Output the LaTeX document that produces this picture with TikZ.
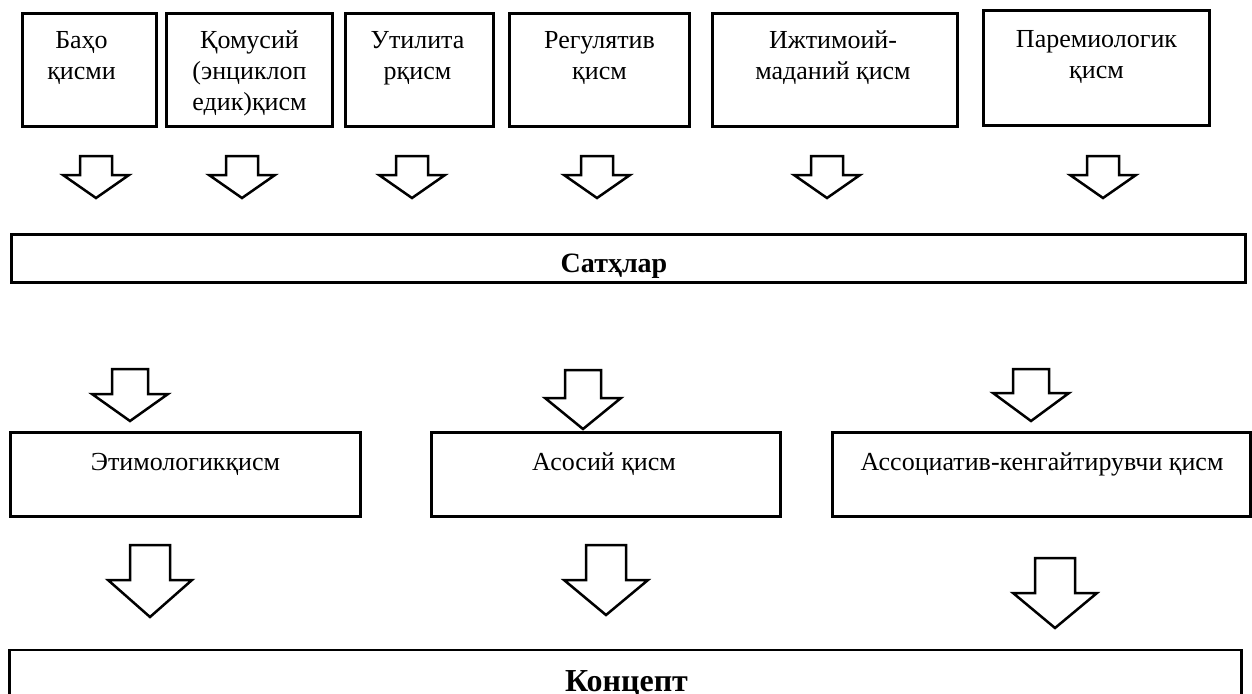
\documentclass[tikz,border=0pt]{standalone}
\usepackage{fontspec}
\setmainfont{Liberation Serif}
\newcommand{\downblock}[6]{%
  \draw[blockarrow] ({#1-#5},#2) -- ({#1+#5},#2) -- ({#1+#5},#3) -- ({#1+#6},#3)
       -- (#1,#4) -- ({#1-#6},#3) -- ({#1-#5},#3) -- cycle;}

\begin{document}
\begin{tikzpicture}[x=1pt,y=-1pt,
    box/.style={draw,line width=3pt,inner sep=0pt,outer sep=0pt},
    wide/.style={draw,line width=2.5pt,inner sep=0pt,outer sep=0pt},
    blockarrow/.style={draw,line width=2.5pt,fill=white},
    lbl/.style={font=\fontsize{26}{31}\selectfont,align=center,inner sep=0pt}]
    \useasboundingbox (0,0) rectangle (1252,693);

    % top row
    \node[box,minimum width=134pt,minimum height=112pt] (baho)  at (89.5,70) {};
    \node[box,minimum width=166pt,minimum height=112pt] (qomus) at (249.5,70) {};
    \node[box,minimum width=148pt,minimum height=112pt] (util)  at (419.5,70) {};
    \node[box,minimum width=180pt,minimum height=112pt] (regul) at (599.5,70) {};
    \node[box,minimum width=245pt,minimum height=112pt] (ijtim) at (835,70) {};
    \node[box,minimum width=226pt,minimum height=114pt] (parem) at (1096.5,68) {};

    \node[lbl,anchor=north] (baho-t)  at ([xshift=-8pt,yshift=-13pt]baho.north) {\strut Баҳо\\қисми};
    \node[lbl,anchor=north] (qomus-t) at ([yshift=-13pt]qomus.north) {\strut Қомусий\\(энциклоп\\едик)қисм};
    \node[lbl,anchor=north] (util-t)  at ([xshift=-2pt,yshift=-13pt]util.north) {\strut Утилита\\рқисм};
    \node[lbl,anchor=north] (regul-t) at ([yshift=-13pt]regul.north) {\strut Регулятив\\қисм};
    \node[lbl,anchor=north] (ijtim-t) at ([xshift=-2pt,yshift=-13pt]ijtim.north) {\strut Ижтимоий-\\маданий қисм};
    \node[lbl,anchor=north] (parem-t) at ([yshift=-15pt]parem.north) {\strut Паремиологик\\қисм};

    \foreach \ax in {96,242,412,597,827,1103}
        \downblock{\ax}{156}{175}{198}{16}{33};

    % levels
    \node[wide,minimum width=1234pt,minimum height=48pt] (sath) at (628.5,258.5) {};
    \node[font=\bfseries\fontsize{28}{34}\selectfont,anchor=base,inner sep=0pt] (sath-t) at (614,272) {Сатҳлар};

    \downblock{130}{369}{394}{421}{18}{38}
    \downblock{583}{370}{398}{429}{18}{38}
    \downblock{1031}{369}{393}{421}{18}{38}

    % middle row
    \node[box,minimum width=350pt,minimum height=84pt] (etim)  at (185.5,474.5) {};
    \node[box,minimum width=349pt,minimum height=84pt] (asos)  at (606,474.5) {};
    \node[box,minimum width=418pt,minimum height=84pt] (assoc) at (1041.5,474.5) {};

    \node[lbl,anchor=base] (etim-t)  at (185.5,470) {Этимологикқисм};
    \node[lbl,anchor=base] (asos-t)  at (604,470) {Асосий қисм};
    \node[lbl,anchor=base] (assoc-t) at (1042,470) {Ассоциатив-кенгайтирувчи қисм};

    \downblock{150}{545}{580}{617}{20}{42}
    \downblock{606}{545}{580}{615}{20}{42}
    \downblock{1055}{558}{593}{628}{20}{42}

    % concept
    \node[wide,minimum width=1232pt,minimum height=80pt] (konsept) at (625.5,690) {};
    \node[font=\bfseries\fontsize{32}{38}\selectfont,anchor=base,inner sep=0pt] (konsept-t) at (626.5,691) {Концепт};
\end{tikzpicture}
\end{document}
